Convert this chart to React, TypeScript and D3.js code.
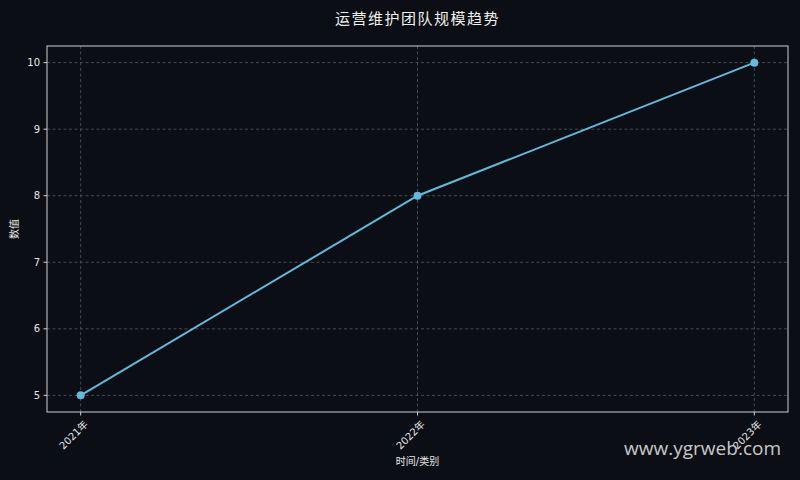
import React, { useRef, useEffect } from 'react';
import * as d3 from 'd3';

const categories = ['2021年', '2022年', '2023年'];
const values = [5, 8, 10];
const yTicks = [5, 6, 7, 8, 9, 10];

const W = 800;
const H = 480;
const BG = '#0b0e14';
const LINE = '#62b9dc';

export default function App() {
  const svgRef = useRef<SVGSVGElement>(null);

  useEffect(() => {
    if (!svgRef.current) return;
    const root = d3.select(svgRef.current);
    root.selectAll('*').remove();

    const margin = { top: 46, right: 12, bottom: 68, left: 47 };
    const iw = W - margin.left - margin.right;
    const ih = H - margin.top - margin.bottom;
    const font = '"DejaVu Sans", "Noto Sans CJK SC", sans-serif';

    root.append('rect').attr('width', W).attr('height', H).attr('fill', BG);

    // title
    root.append('text')
      .attr('x', margin.left + iw / 2)
      .attr('y', 24)
      .attr('text-anchor', 'middle')
      .attr('fill', '#f0f0f0')
      .style('font-family', font)
      .style('font-size', '15px')
      .style('letter-spacing', '1.5px')
      .text('运营维护团队规模趋势');

    const g = root.append('g').attr('transform', `translate(${margin.left},${margin.top})`);

    // point scale with 5% padding on each side
    const xLin = d3.scaleLinear().domain([-0.1, categories.length - 1 + 0.1]).range([0, iw]);
    const x = (i: number) => xLin(i);
    const y = d3.scaleLinear().domain([4.75, 10.25]).range([ih, 0]);

    // grid
    g.selectAll('.hgrid')
      .data(yTicks)
      .join('line')
      .attr('x1', 0).attr('x2', iw)
      .attr('y1', d => y(d)).attr('y2', d => y(d))
      .attr('stroke', '#555a60')
      .attr('stroke-width', 0.8)
      .attr('stroke-dasharray', '3,2.5');
    g.selectAll('.vgrid')
      .data(categories)
      .join('line')
      .attr('x1', (d, i) => x(i)).attr('x2', (d, i) => x(i))
      .attr('y1', 0).attr('y2', ih)
      .attr('stroke', '#555a60')
      .attr('stroke-width', 0.8)
      .attr('stroke-dasharray', '3,2.5');

    // frame
    g.append('rect')
      .attr('width', iw).attr('height', ih)
      .attr('fill', 'none')
      .attr('stroke', '#cfcfcf')
      .attr('stroke-width', 1);

    // y ticks
    const yt = g.selectAll('.yt').data(yTicks).join('g').attr('transform', d => `translate(0,${y(d)})`);
    yt.append('line').attr('x1', -3.5).attr('x2', 0).attr('stroke', '#cfcfcf');
    yt.append('text')
      .attr('x', -7).attr('dy', '0.35em')
      .attr('text-anchor', 'end')
      .attr('fill', '#e8e8e8')
      .style('font-family', font)
      .style('font-size', '10px')
      .text(d => d);

    // x ticks
    const xt = g.selectAll('.xt').data(categories).join('g').attr('transform', (d, i) => `translate(${x(i)},${ih})`);
    xt.append('line').attr('y1', 0).attr('y2', 3.5).attr('stroke', '#cfcfcf');
    xt.append('text')
      .attr('transform', 'translate(3,8) rotate(-45)')
      .attr('text-anchor', 'end')
      .attr('dy', '0.7em')
      .attr('fill', '#e8e8e8')
      .style('font-family', font)
      .style('font-size', '10px')
      .text(d => d);

    // axis labels
    g.append('text')
      .attr('x', iw / 2).attr('y', ih + 53)
      .attr('text-anchor', 'middle')
      .attr('fill', '#e8e8e8')
      .style('font-family', font)
      .style('font-size', '10px')
      .text('时间/类别');
    g.append('text')
      .attr('transform', `translate(${-29},${ih / 2}) rotate(-90)`)
      .attr('text-anchor', 'middle')
      .attr('fill', '#e8e8e8')
      .style('font-family', font)
      .style('font-size', '10px')
      .text('数值');

    // line + markers
    const line = d3.line<number>().x((d, i) => x(i)).y(d => y(d));
    g.append('path')
      .datum(values)
      .attr('d', line)
      .attr('fill', 'none')
      .attr('stroke', LINE)
      .attr('stroke-width', 2);
    g.selectAll('.pt')
      .data(values)
      .join('circle')
      .attr('cx', (d, i) => x(i))
      .attr('cy', d => y(d))
      .attr('r', 4)
      .attr('fill', LINE);

    // watermark
    root.append('text')
      .attr('x', 781).attr('y', 455)
      .attr('text-anchor', 'end')
      .attr('fill', 'rgba(235,235,235,0.85)')
      .style('font-family', '"Open Sans", sans-serif')
      .style('font-size', '19px')
      .text('www.ygrweb.com');
  }, []);

  return <svg ref={svgRef} width={W} height={H} style={{ display: 'block', position: 'absolute', left: 0, top: 0 }} />;
}
